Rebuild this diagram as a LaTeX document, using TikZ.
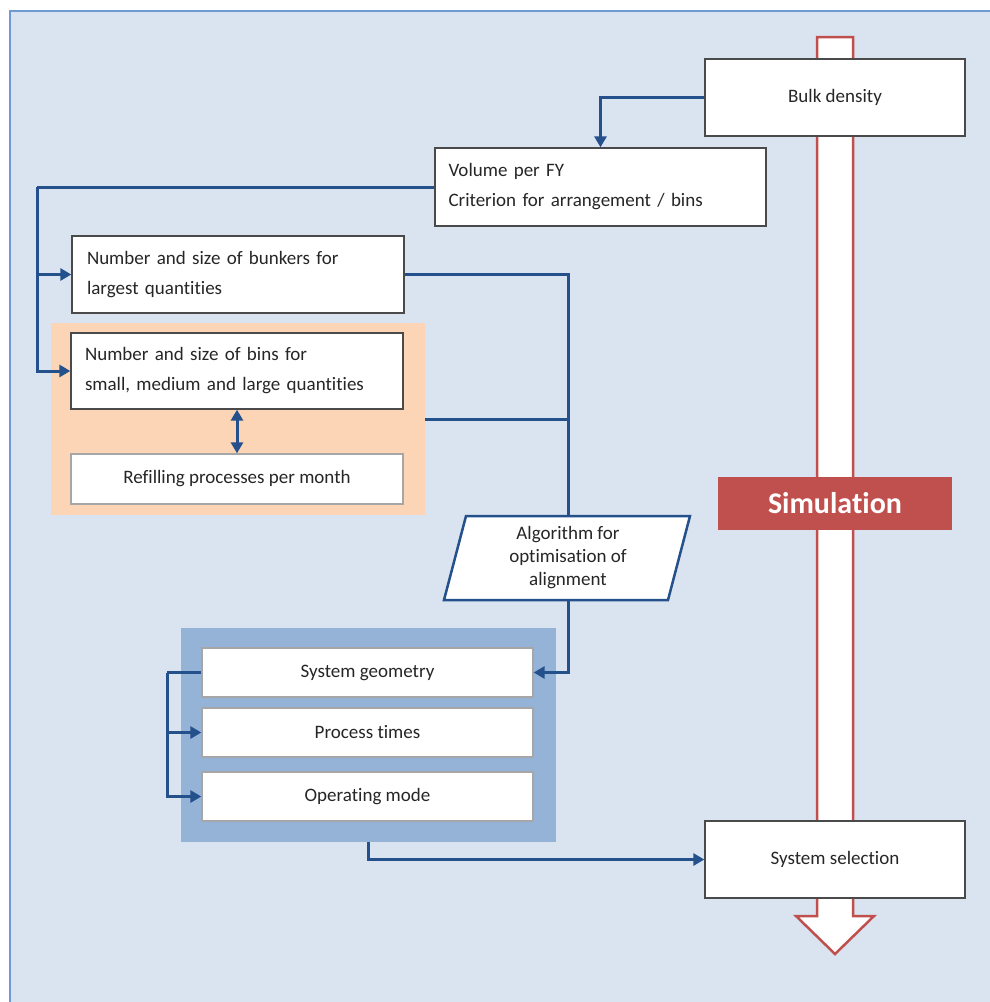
\documentclass[tikz,border=0pt]{standalone}
\usepackage{fontspec}
\setmainfont{Carlito}[Ligatures=NoCommon]
\usetikzlibrary{arrows.meta}
\definecolor{bgblue}{HTML}{DAE4F0}
\definecolor{frameblue}{HTML}{6F9AD2}
\definecolor{connblue}{HTML}{24508C}
\definecolor{boxgray}{HTML}{4A4A4A}
\definecolor{lightgray}{HTML}{A6A6A6}
\definecolor{simred}{HTML}{C0504D}
\definecolor{orangebg}{HTML}{FBD5B5}
\definecolor{bluebg}{HTML}{95B3D7}
\definecolor{txt}{HTML}{262626}
\begin{document}
\begin{tikzpicture}[x=1pt,y=-1pt,
  box/.style={draw=boxgray, line width=1.3pt, fill=white, inner sep=0pt, text=txt,
    font=\fontsize{19}{30}\selectfont},
  lbox/.style={box, draw=lightgray},
  region/.style={inner sep=0pt, draw=none},
  conn/.style={draw=connblue, line width=3pt},
  arr/.style={conn, -{Triangle[length=11pt,width=12pt]}},
  darr/.style={conn, {Triangle[length=11pt,width=12pt]}-{Triangle[length=11pt,width=12pt]}}]
\useasboundingbox (0,0) rectangle (990,1002);
\clip (0,0) rectangle (990,1002);
% frame
\fill[bgblue] (10,11) rectangle (1000,1010);
\draw[frameblue, line width=2pt] (10,1010) -- (10,11) -- (1000,11);
% red simulation arrow
\draw[simred, line width=2.5pt, fill=white, line join=miter]
  (817,37) -- (853,37) -- (853,916) -- (874,916) -- (835,954) -- (796,916) -- (817,916) -- cycle;
% regions
\node[region, fill=orangebg, minimum width=374pt, minimum height=192pt] (orange) at (238,419) {};
\node[region, fill=bluebg, minimum width=375pt, minimum height=214pt] (bluereg) at (368.5,735) {};
% boxes
\node[box, minimum width=260pt, minimum height=77pt] (bulk) at (835,97.5) {Bulk density};
\node[box, minimum width=331pt, minimum height=78pt, text width=304pt, align=left] (vol) at (600.5,187)
  {Volume per FY\\Criterion for arrangement / bins};
\node[box, minimum width=332pt, minimum height=77pt, text width=302pt, align=left] (bunk) at (238,274.5)
  {Number and size of bunkers for\\largest quantities};
\node[box, minimum width=332pt, minimum height=76pt, text width=304pt, align=left] (bins) at (237,371)
  {Number and size of bins for\\small, medium and large quantities};
\node[lbox, minimum width=332pt, minimum height=50pt] (refill) at (237,479) {Refilling processes per month};
\draw[connblue, line width=2.5pt, fill=white] (466,516) -- (690,516) -- (668,600) -- (444,600) -- cycle;
\node[inner sep=0pt, minimum height=84pt, text=txt, align=center, font=\fontsize{19}{23}\selectfont]
  (alg) at (568,558) {Algorithm for\\optimisation of\\alignment};
\node[lbox, minimum width=331pt, minimum height=49pt] (sg) at (367.5,672.5) {System geometry};
\node[lbox, minimum width=331pt, minimum height=49pt] (pt) at (367.5,732.5) {Process times};
\node[lbox, minimum width=331pt, minimum height=49pt] (om) at (367.5,796.5) {Operating mode};
\node[box, minimum width=260pt, minimum height=77pt] (sel) at (835,859.5) {System selection};
\node[fill=simred, inner sep=0pt, minimum width=234pt, minimum height=53pt, text=white,
  font=\fontsize{30}{36}\selectfont\bfseries] (sim) at (835,503.5) {Simulation};
% connectors
\coordinate (lft) at (37,187);
\coordinate (lg) at (167,672.5);
\draw[arr] (bulk.west) -| (vol.north);
\draw[conn] (vol.west) -- (lft);
\draw[arr] (lft) |- (bunk.west);
\draw[arr] (lft) |- (bins.west);
\draw[darr] (bins.south) -- (refill.north);
\draw[conn] (bunk.east) -| (alg.north);
\draw[conn] (orange.east) -- (orange.east -| alg.north);
\draw[arr] (alg.south) |- (sg.east);
\draw[conn] (sg.west) -- (lg);
\draw[arr] (lg) |- (pt.west);
\draw[arr] (lg) |- (om.west);
\draw[arr] (bluereg.south) |- (sel.west);
\end{tikzpicture}
\end{document}
